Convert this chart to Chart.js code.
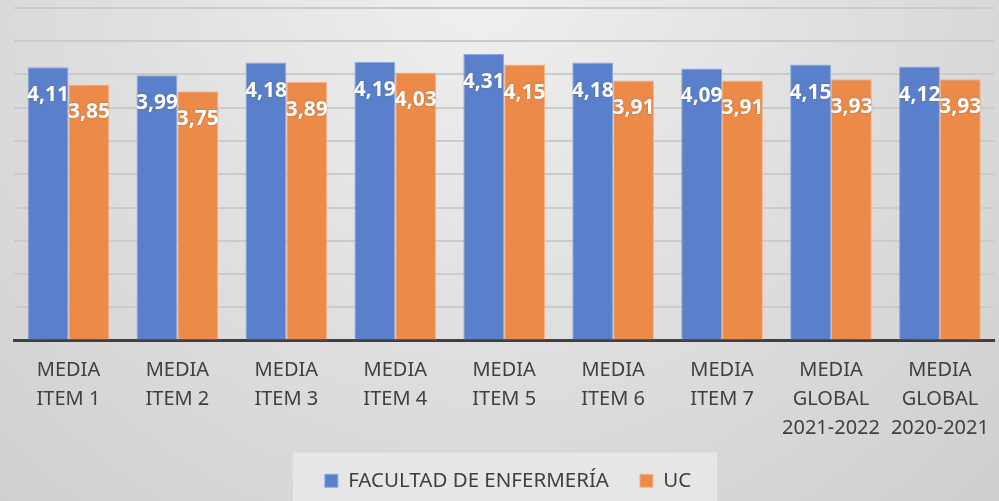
<!DOCTYPE html>
<html>
<head>
<meta charset="utf-8">
<script src="https://cdn.jsdelivr.net/npm/chart.js@4"></script>
<style>
html,body{margin:0;padding:0;overflow:hidden;background:#d8d8d8;}
#wrap{width:1004px;height:501px;position:relative;}
</style>
</head>
<body>
<div id="wrap"><canvas id="c"></canvas></div>
<script>
const categories = [
  ['MEDIA','ITEM 1'], ['MEDIA','ITEM 2'], ['MEDIA','ITEM 3'], ['MEDIA','ITEM 4'],
  ['MEDIA','ITEM 5'], ['MEDIA','ITEM 6'], ['MEDIA','ITEM 7'],
  ['MEDIA','GLOBAL','2021-2022'], ['MEDIA','GLOBAL','2020-2021']
];
const facultad = [4.11, 3.99, 4.18, 4.19, 4.31, 4.18, 4.09, 4.15, 4.12];
const uc = [3.85, 3.75, 3.89, 4.03, 4.15, 3.91, 3.91, 3.93, 3.93];
const seriesNames = ['FACULTAD DE ENFERMERÍA', 'UC'];

const bgPlugin = {
  id: 'bg',
  beforeDraw(chart) {
    const ctx = chart.ctx;
    const w = chart.width, h = chart.height;
    ctx.save();
    const g = ctx.createRadialGradient(480, -20, 0, 480, -20, 760);
    g.addColorStop(0, '#f0f0f0');
    g.addColorStop(1, '#cdcdcd');
    ctx.fillStyle = g;
    ctx.fillRect(0, 0, w, h);
    const lg = chart.legend;
    if (lg && lg.legendHitBoxes && lg.legendHitBoxes.length) {
      const hb = lg.legendHitBoxes;
      const minX = Math.min(...hb.map(b => b.left));
      const maxX = Math.max(...hb.map(b => b.left + b.width));
      const top = hb[0].top - 18;
      ctx.fillStyle = 'rgba(235,235,235,0.75)';
      ctx.fillRect(minX - 32, top, (maxX - minX) + 58, h - top);
    }
    ctx.restore();
  }
};

const labelPlugin = {
  id: 'vals',
  afterDatasetsDraw(chart) {
    const ctx = chart.ctx;
    ctx.save();
    ctx.font = 'bold 21px "Noto Sans"';
    ctx.textAlign = 'center';
    ctx.textBaseline = 'middle';
    ctx.fillStyle = '#ffffff';
    ctx.shadowColor = 'rgba(0,0,0,0.25)';
    ctx.shadowBlur = 2;
    chart.data.datasets.forEach((ds, di) => {
      chart.getDatasetMeta(di).data.forEach((bar, i) => {
        const txt = ds.data[i].toFixed(2).replace('.', ',');
        ctx.fillText(txt, bar.x, bar.y + 28);
      });
    });
    ctx.restore();
  }
};

new Chart(document.getElementById('c'), {
  type: 'bar',
  data: {
    labels: categories,
    datasets: [
      { label: seriesNames[0], data: facultad, backgroundColor: '#5b80cb', borderColor: '#8fa9de', borderWidth: 1 },
      { label: seriesNames[1], data: uc, backgroundColor: '#ec8a4a', borderColor: '#f5b488', borderWidth: 1 }
    ]
  },
  options: {
    responsive: true,
    maintainAspectRatio: false,
    animation: false,
    layout: { padding: { left: 14, right: 2, top: 8, bottom: 0 } },
    datasets: { bar: { categoryPercentage: 0.75, barPercentage: 1.0 } },
    plugins: {
      legend: {
        position: 'bottom',
        labels: {
          boxWidth: 13, boxHeight: 13, padding: 31,
          color: '#404040',
          font: { family: '"Noto Sans"', size: 20.5 }
        }
      },
      tooltip: { enabled: false }
    },
    scales: {
      x: {
        grid: { display: false, drawTicks: false },
        border: { display: true, color: '#404040', width: 3 },
        ticks: {
          color: '#404040', padding: 15, maxRotation: 0, autoSkip: false,
          font: { family: '"Noto Sans"', size: 20, lineHeight: 1.45 }
        },
        afterFit(scale) { scale.height = 99; }
      },
      y: {
        min: 0, max: 5,
        ticks: { display: false, stepSize: 0.5 },
        grid: { color: '#cbcbcb', lineWidth: 2, drawTicks: false },
        border: { display: false }
      }
    }
  },
  plugins: [bgPlugin, labelPlugin]
});
</script>
</body>
</html>
